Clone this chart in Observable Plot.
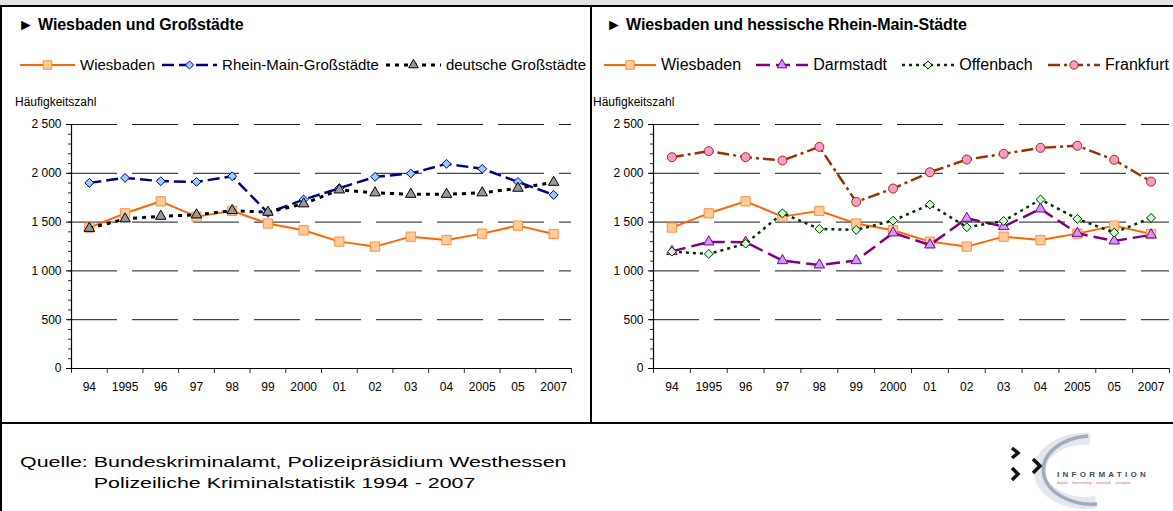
<!DOCTYPE html>
<html><head><meta charset="utf-8">
<script src="https://cdn.jsdelivr.net/npm/d3@7"></script>
<script src="https://cdn.jsdelivr.net/npm/@observablehq/plot@0.6"></script>
<style>
html,body{margin:0;padding:0;background:#fff;}
#page{position:relative;width:1173px;height:511px;overflow:hidden;background:#fff;font-family:'Liberation Sans',Arial,sans-serif;color:#000;}
.abs{position:absolute;}
.title{font-weight:bold;font-size:16px;line-height:20px;white-space:nowrap;letter-spacing:-0.1px;}
.legend{display:flex;align-items:center;justify-content:space-between;white-space:nowrap;line-height:18px;}
.legend .item{display:flex;align-items:center;}
.legend svg{display:block;overflow:visible;}
.hz{font-size:12px;line-height:14px;white-space:nowrap;}
svg.plot{display:block;}
</style></head>
<body><div id="page">
 <div class="abs" style="left:0;top:0;width:1173px;height:5px;background:#e3e3e3"></div>
 <div class="abs" style="left:0;top:5px;width:1173px;height:2px;background:#000"></div>
 <div class="abs" style="left:0;top:5px;width:2px;height:506px;background:#000"></div>
 <div class="abs" style="left:590px;top:7px;width:2px;height:416px;background:#000"></div>
 <div class="abs" style="left:0;top:422px;width:1173px;height:2px;background:#000"></div>

 <div class="abs title" style="left:18px;top:15px">► Wiesbaden und Großstädte</div>
 <div class="abs title" style="left:606px;top:15px">► Wiesbaden und hessische Rhein-Main-Städte</div>

 <div id="legL" class="abs legend" style="left:20px;top:56px;width:566px;font-size:15px"></div>
 <div id="legR" class="abs legend" style="left:604px;top:56px;width:565px;font-size:16px"></div>

 <div class="abs hz" style="left:15px;top:95px">Häufigkeitszahl</div>
 <div class="abs hz" style="left:593px;top:95px">Häufigkeitszahl</div>

 <div id="chartL" class="abs" style="left:0;top:100px"></div>
 <div id="chartR" class="abs" style="left:590px;top:100px"></div>

 <div class="abs" style="left:20px;top:451px;font-size:15.5px;line-height:21px;transform:scaleX(1.38);transform-origin:0 0;white-space:nowrap;display:flex">
   <div>Quelle:&nbsp;</div>
   <div><div>Bundeskriminalamt, Polizeipräsidium Westhessen</div><div>Polizeiliche Kriminalstatistik 1994 - 2007</div></div>
 </div>

 <svg class="abs" style="left:1000px;top:424px" width="173" height="87" viewBox="0 0 173 87">
   <path d="M90,15 A46,32 0 1,0 96,78" fill="none" stroke="#e4e7ee" stroke-width="12"/>
   <path d="M88,12 A49,34 0 1,0 97,80" fill="none" stroke="#a3abbf" stroke-width="3.5"/>
   <path d="M12,24 L18,29 L12,34" fill="none" stroke="#111" stroke-width="3.5"/>
   <path d="M12,44 L18,50 L12,56" fill="none" stroke="#111" stroke-width="3.5"/>
   <path d="M33,35 L40,42 L33,49" fill="none" stroke="#111" stroke-width="3.5"/>
   <text x="57" y="53" font-family="Liberation Sans, Arial" font-weight="bold" font-size="8" letter-spacing="3.3" fill="#3b4a6b">INFORMATION</text>
   <text x="57" y="60" font-family="Liberation Sans, Arial" font-size="3.8" letter-spacing="0.3" fill="#c0587a">daten · forschung · statistik · analyse</text>
 </svg>
</div>
<script>
// ---- data ----
const years = ["94","1995","96","97","98","99","2000","01","02","03","04","2005","05","2007"];
const wiesbaden = [1444,1590,1713,1556,1615,1485,1416,1300,1249,1351,1317,1382,1464,1379];
const rheinMain = [1902,1953,1919,1912,1970,1594,1731,1847,1964,1998,2097,2046,1912,1779];
const deutsche  = [1436,1533,1560,1574,1618,1601,1687,1830,1800,1785,1785,1800,1847,1908];
const darmstadt = [1200,1297,1294,1105,1061,1105,1389,1266,1539,1454,1635,1385,1307,1369];
const offenbach = [1197,1174,1279,1590,1430,1420,1515,1680,1447,1512,1731,1533,1392,1543];
const frankfurt = [2165,2227,2165,2131,2271,1707,1844,2011,2141,2199,2261,2282,2138,1915];
const yTicks = [0,500,1000,1500,2000,2500];
const yMinor = d3.range(0,2501,100);

// ---- styles ----
const S = {
  wiesbaden: {name:"Wiesbaden", values:wiesbaden, color:"#ff6600", width:2, dash:null, symbol:"square", r:5.2, fill:"#ffcc99", mstroke:"#ff8f40"},
  rheinMain: {name:"Rhein-Main-Großstädte", values:rheinMain, color:"#000080", width:2.5, dash:"12,5", symbol:"diamond2", r:4, fill:"#99ccff", mstroke:"#000080"},
  deutsche:  {name:"deutsche Großstädte", values:deutsche, color:"#000000", width:3, dash:"4,5", symbol:"triangle", r:3.9, fill:"#999999", mstroke:"#000000"},
  darmstadt: {name:"Darmstadt", values:darmstadt, color:"#800080", width:2.5, dash:"14,6", symbol:"triangle", r:3.9, fill:"#cc99ff", mstroke:"#800080"},
  offenbach: {name:"Offenbach", values:offenbach, color:"#003300", width:2.5, dash:"3,4", symbol:"diamond2", r:4, fill:"#ccffcc", mstroke:"#003300"},
  frankfurt: {name:"Frankfurt", values:frankfurt, color:"#993300", width:2.5, dash:"12,4,3,4", symbol:"circle", r:4.5, fill:"#ff99cc", mstroke:"#993300"}
};
const d3sym = {square:d3.symbolSquare, diamond2:d3.symbolDiamond2, triangle:d3.symbolTriangle, circle:d3.symbolCircle};

function fmt(d){ return d3.format(",")(d).replace(/,/g," "); }

function chart(series, {width, marginLeft, marginRight}) {
  const idx = d3.range(years.length);
  const marks = [
    Plot.ruleY(yTicks.slice(1), {x1:0, x2:years.length, stroke:"#1a1a1a", strokeWidth:1, strokeDasharray:"46,15"}),
    Plot.axisY({ticks:yMinor, tickSize:3, tickFormat:()=>"", label:null, stroke:"#333"}),
    Plot.axisY({ticks:yTicks, tickSize:5, tickPadding:5, tickFormat:fmt, label:null, fontSize:12}),
    Plot.axisX({ticks:d3.range(0, years.length+1), tickSize:5, tickFormat:()=>"", label:null, stroke:"#333"}),
    Plot.axisX({ticks:idx.map(i=>i+0.5), tickSize:0, tickPadding:14, tickFormat:d=>years[Math.floor(d)], label:null, fontSize:12}),
    Plot.ruleX([0], {y1:0, y2:2500, stroke:"#000", strokeWidth:1.2}),
    Plot.ruleY([0], {x1:0, x2:years.length, stroke:"#000", strokeWidth:1.2})
  ];
  for (const s of series) {
    marks.push(Plot.line(idx, {x:i=>i+0.5, y:i=>s.values[i], stroke:s.color, strokeWidth:s.width, strokeDasharray:s.dash, strokeLinecap:"butt"}));
    marks.push(Plot.dot(idx, {x:i=>i+0.5, y:i=>s.values[i], symbol:s.symbol, r:s.r, fill:s.fill, stroke:s.mstroke, strokeWidth:1}));
  }
  const p = Plot.plot({
    width, height:300, marginTop:24, marginBottom:32, marginLeft, marginRight,
    x:{type:"linear", domain:[0, years.length], axis:null},
    y:{type:"linear", domain:[0, 2500], axis:null},
    style:{fontFamily:"'Liberation Sans', Arial, sans-serif", fontSize:"12px", color:"#000", background:"transparent", overflow:"visible"},
    marks
  });
  p.classList.add("plot");
  return p;
}

document.getElementById("chartL").append(chart([S.wiesbaden, S.rheinMain, S.deutsche], {width:590, marginLeft:71, marginRight:19}));
document.getElementById("chartR").append(chart([S.wiesbaden, S.darmstadt, S.offenbach, S.frankfurt], {width:583, marginLeft:63, marginRight:4}));

function legend(id, series, sw, gap) {
  const el = d3.select("#" + id);
  for (const s of series) {
    const it = el.append("div").attr("class","item");
    const svg = it.append("svg").attr("width", sw).attr("height", 14);
    svg.append("line").attr("x1",0).attr("x2",sw).attr("y1",7).attr("y2",7)
      .attr("stroke", s.color).attr("stroke-width", s.width).attr("stroke-dasharray", s.dash);
    svg.append("path").attr("transform", `translate(${sw/2},7)`)
      .attr("d", d3.symbol(d3sym[s.symbol], Math.PI*s.r*s.r*0.85)())
      .attr("fill", s.fill).attr("stroke", s.mstroke).attr("stroke-width",1);
    it.append("span").style("margin-left", gap + "px").text(s.name);
  }
}
legend("legL", [S.wiesbaden, S.rheinMain, S.deutsche], 55, 5);
legend("legR", [S.wiesbaden, S.darmstadt, S.offenbach, S.frankfurt], 52, 5);
</script>
</body></html>
